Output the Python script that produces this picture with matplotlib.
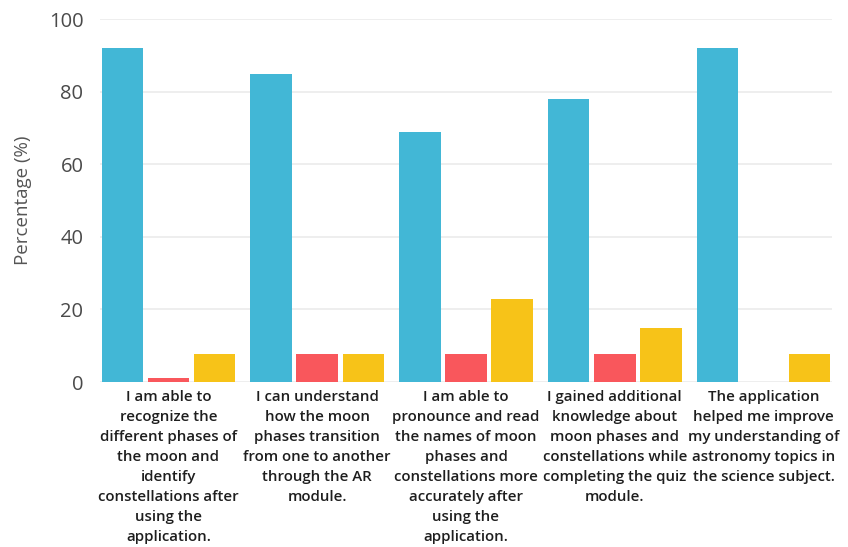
import matplotlib.pyplot as plt
import numpy as np

plt.rcParams['font.family'] = ['Open Sans', 'DejaVu Sans']

rotulos = [
    "I am able to\nrecognize the\ndifferent phases of\nthe moon and\nidentify\nconstellations after\nusing the\napplication.",
    "I can understand\nhow the moon\nphases transition\nfrom one to another\nthrough the AR\nmodule.",
    "I am able to\npronounce and read\nthe names of moon\nphases and\nconstellations more\naccurately after\nusing the\napplication.",
    "I gained additional\nknowledge about\nmoon phases and\nconstellations while\ncompleting the quiz\nmodule.",
    "The application\nhelped me improve\nmy understanding of\nastronomy topics in\nthe science subject.",
]
concordo = [92, 85, 69, 78, 92]
discordo = [1, 7.7, 7.7, 7.7, 0]
neutro = [7.7, 7.7, 23, 15, 7.7]

azul = '#42B7D6'
vermelho = '#F9575C'
amarelo = '#F7C318'

fig = plt.figure(figsize=(8.48, 5.47), dpi=100)
ax = fig.add_axes([0.118, 0.3016, 0.863, 0.6634])

x = np.arange(len(rotulos))
largura = 0.28
desloc = 0.31
ax.bar(x - desloc, concordo, largura, color=azul, zorder=2)
ax.bar(x, discordo, largura, color=vermelho, zorder=2)
ax.bar(x + desloc, neutro, largura, color=amarelo, zorder=2)

ax.set_xlim(-0.46, 4.46)
ax.set_ylim(0, 100)
ax.set_yticks([0, 20, 40, 60, 80, 100])
ax.tick_params(axis='y', length=0, labelsize=14.5, labelcolor='#4A4A4A', pad=12)
ax.set_xticks(x)
ax.set_xticklabels(rotulos, fontsize=10.8, color='#1E1E1E', fontweight='semibold',
                   linespacing=1.54)
ax.tick_params(axis='x', length=0, pad=6)
ax.grid(axis='y', color='#EBEBEB', linewidth=1.2, zorder=0)
for lado in ax.spines.values():
    lado.set_visible(False)
ax.set_ylabel('Percentage (%)', fontsize=13.5, color='#555555', labelpad=12)

fig.savefig('out.png', dpi=100)
